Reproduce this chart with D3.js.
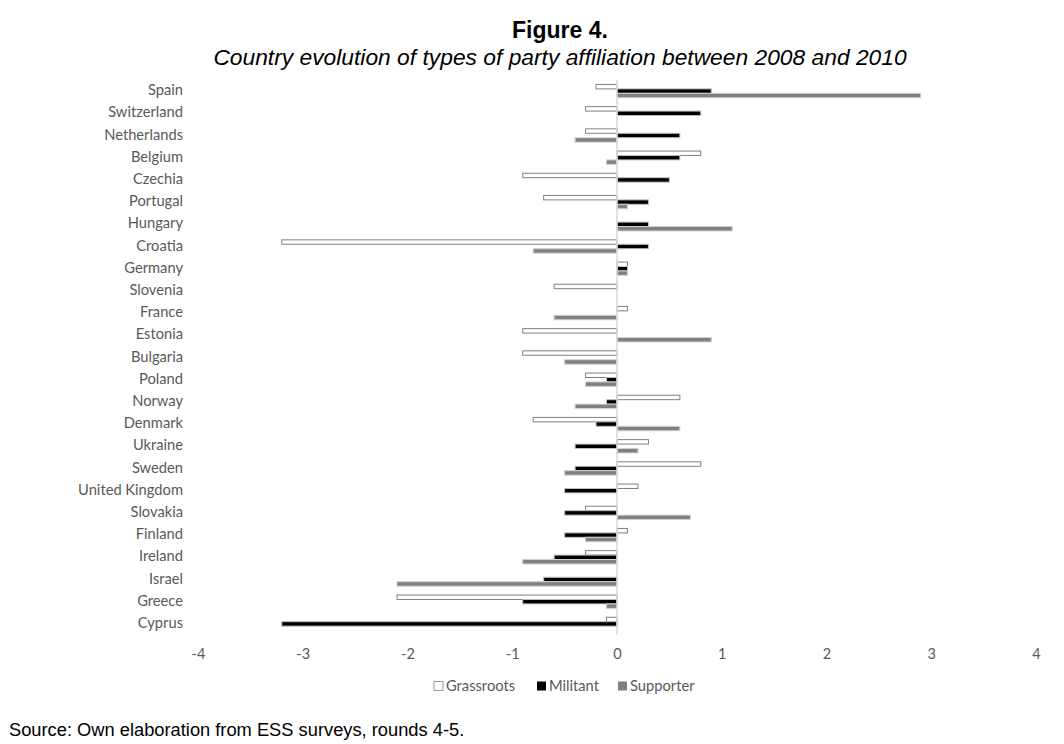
<!DOCTYPE html>
<html>
<head>
<meta charset="utf-8">
<script src="https://cdn.jsdelivr.net/npm/d3@7"></script>
<style>
  body { margin: 0; background: #fff; }
  svg { display: block; }
</style>
</head>
<body>
<div id="chart"></div>
<script>
// countries from top to bottom
var countries = ['Spain','Switzerland','Netherlands','Belgium','Czechia','Portugal','Hungary','Croatia',
  'Germany','Slovenia','France','Estonia','Bulgaria','Poland','Norway','Denmark','Ukraine','Sweden',
  'United Kingdom','Slovakia','Finland','Ireland','Israel','Greece','Cyprus'];

// change 2008-2010
var grassroots = [-0.2,-0.3,-0.3,0.8,-0.9,-0.7,0,-3.2,0.1,-0.6,0.1,-0.9,-0.9,-0.3,0.6,-0.8,0.3,0.8,0.2,-0.3,0.1,-0.3,0,-2.1,-0.1];
var militant   = [0.9,0.8,0.6,0.6,0.5,0.3,0.3,0.3,0.1,0,0,0,0,-0.1,-0.1,-0.2,-0.4,-0.4,-0.5,-0.5,-0.5,-0.6,-0.7,-0.9,-3.2];
var supporter  = [2.9,0,-0.4,-0.1,0,0.1,1.1,-0.8,0.1,0,-0.6,0.9,-0.5,-0.3,-0.4,0.6,0.2,-0.5,0,0.7,-0.3,-0.9,-2.1,-0.1,0];

var seriesNames = ['Grassroots','Militant','Supporter'];
var xTicks = [-4,-3,-2,-1,0,1,2,3,4];

var width = 1064, height = 744;

var svg = d3.select('#chart').append('svg')
  .attr('width', width)
  .attr('height', height);

var x = d3.scaleLinear().domain([-4, 4]).range([198, 1036]);

var y = d3.scaleBand().domain(countries).range([80, 635]).paddingInner(0.4).paddingOuter(0.2);

var y1 = d3.scaleBand().domain(seriesNames).range([0, y.bandwidth()]);

var styles = {
  Grassroots: {fill: '#ffffff', stroke: '#808080'},
  Militant:   {fill: '#000000', stroke: '#bfbfbf'},
  Supporter:  {fill: '#808080', stroke: '#d0d0d0'}
};

var rows = countries.map(function (c, i) {
  return {country: c, values: [
    {series: 'Grassroots', v: grassroots[i]},
    {series: 'Militant', v: militant[i]},
    {series: 'Supporter', v: supporter[i]}
  ]};
});

// title
svg.append('text')
  .attr('x', 560).attr('y', 38)
  .attr('text-anchor', 'middle')
  .style('font-family', 'Liberation Sans, Arial, sans-serif')
  .style('font-weight', 'bold')
  .style('font-size', '23px')
  .text('Figure 4.');

svg.append('text')
  .attr('x', 560).attr('y', 65)
  .attr('text-anchor', 'middle')
  .style('font-family', 'Liberation Sans, Arial, sans-serif')
  .style('font-style', 'italic')
  .style('font-size', '22.8px')
  .text('Country evolution of types of party affiliation between 2008 and 2010');

// bars
var groups = svg.selectAll('g.country').data(rows)
  .enter().append('g')
  .attr('class', 'country')
  .attr('transform', function (d) { return 'translate(0,' + y(d.country) + ')'; });

groups.selectAll('rect').data(function (d) { return d.values.filter(function (e) { return e.v !== 0; }); })
  .enter().append('rect')
  .attr('x', function (d) { return Math.min(x(0), x(d.v)); })
  .attr('width', function (d) { return Math.abs(x(d.v) - x(0)); })
  .attr('y', function (d) { return y1(d.series); })
  .attr('height', y1.bandwidth())
  .attr('fill', function (d) { return styles[d.series].fill; })
  .attr('stroke', function (d) { return styles[d.series].stroke; })
  .attr('stroke-width', 1);

// zero line
svg.append('line')
  .attr('x1', x(0)).attr('x2', x(0))
  .attr('y1', 80).attr('y2', 635)
  .attr('stroke', '#d9d9d9')
  .attr('stroke-width', 1.5);

// category labels
svg.selectAll('text.cat').data(countries)
  .enter().append('text')
  .attr('class', 'cat')
  .attr('x', 183)
  .attr('y', function (d) { return y(d) + y.bandwidth() / 2 - 1; })
  .attr('dy', '0.35em')
  .attr('text-anchor', 'end')
  .style('font-family', 'Lato, Open Sans, sans-serif')
  .style('font-size', '14.7px')
  .style('fill', '#595959')
  .text(function (d) { return d; });

// x axis labels (plain hyphen minus like the original)
var xAxis = d3.axisBottom(x).tickValues(xTicks).tickSize(0).tickPadding(0)
  .tickFormat(function (d) { return String(d); });
var gx = svg.append('g')
  .attr('transform', 'translate(0,649)')
  .call(xAxis);
gx.select('.domain').remove();
gx.selectAll('text')
  .style('font-family', 'Lato, Open Sans, sans-serif')
  .style('font-size', '14.5px')
  .style('fill', '#595959');

// legend
var legendX = [434, 537, 618];
var legend = svg.selectAll('g.legend').data(seriesNames)
  .enter().append('g')
  .attr('class', 'legend')
  .attr('transform', function (d, i) { return 'translate(' + legendX[i] + ',681)'; });

legend.append('rect')
  .attr('width', 9).attr('height', 9)
  .attr('y', 0.5)
  .attr('fill', function (d) { return styles[d].fill; })
  .attr('stroke', function (d) { return d === 'Grassroots' ? '#808080' : 'none'; })
  .attr('stroke-width', 0.8);

legend.append('text')
  .attr('x', 12).attr('y', 5)
  .attr('dy', '0.35em')
  .style('font-family', 'Lato, Open Sans, sans-serif')
  .style('font-size', '14.7px')
  .style('fill', '#595959')
  .text(function (d) { return d; });

// source
svg.append('text')
  .attr('x', 9).attr('y', 736)
  .style('font-family', 'Liberation Sans, Arial, sans-serif')
  .style('font-size', '18.3px')
  .style('fill', '#000')
  .text('Source: Own elaboration from ESS surveys, rounds 4-5.');
</script>
</body>
</html>
